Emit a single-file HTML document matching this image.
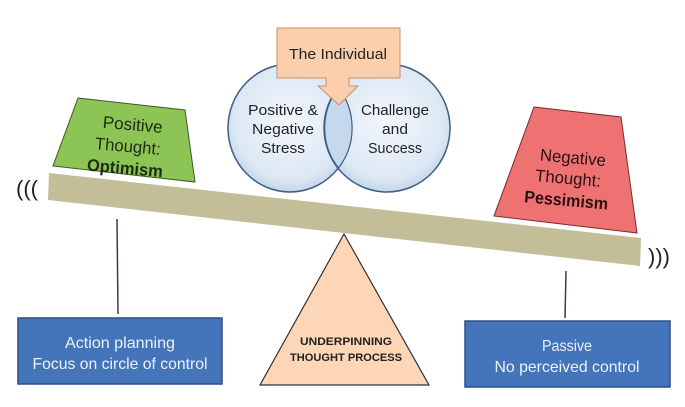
<!DOCTYPE html>
<html><head><meta charset="utf-8"><style>
html,body{margin:0;padding:0;background:#fff;}
svg{display:block;}
text{font-family:"Liberation Sans",sans-serif;}
</style></head><body>
<svg width="685" height="407" viewBox="0 0 685 407" xmlns="http://www.w3.org/2000/svg">
<defs>
<radialGradient id="cg" cx="50%" cy="45%" r="60%">
<stop offset="0%" stop-color="#f2f6fb"/><stop offset="75%" stop-color="#dce8f4"/><stop offset="100%" stop-color="#b9cde3"/>
</radialGradient>
</defs>
<rect width="685" height="407" fill="#fff"/>
<ellipse cx="290" cy="128" rx="62" ry="64" fill="url(#cg)" stroke="#3d5f86" stroke-width="1.5"/>
<ellipse cx="387" cy="128" rx="63" ry="64" fill="url(#cg)" stroke="#3d5f86" stroke-width="1.5"/>
<path d="M338.5 88 A62 64 0 0 1 338.5 168 A63 64 0 0 1 338.5 88Z" fill="#c6d8ec" stroke="#3d5f86" stroke-width="1.2"/>
<g font-size="15" text-anchor="middle" fill="#222">
<text x="283" y="115" textLength="70" lengthAdjust="spacingAndGlyphs">Positive &amp;</text>
<text x="283" y="134" textLength="62" lengthAdjust="spacingAndGlyphs">Negative</text>
<text x="283" y="153" textLength="44" lengthAdjust="spacingAndGlyphs">Stress</text>
<text x="395" y="115" textLength="68" lengthAdjust="spacingAndGlyphs">Challenge</text>
<text x="395" y="134" textLength="26" lengthAdjust="spacingAndGlyphs">and</text>
<text x="395" y="153" textLength="54" lengthAdjust="spacingAndGlyphs">Success</text>
</g>
<path d="M277 28 H400 V78 H349 V86 H358 L339 105 L318 86 H326 V78 H277 Z" fill="#fbcfac" stroke="#c9906a" stroke-width="1"/>
<text x="338" y="59" font-size="15" text-anchor="middle" fill="#222" textLength="98" lengthAdjust="spacingAndGlyphs">The Individual</text>
<polygon points="78,98 185,110 195,182 53,166" fill="#8cc455" stroke="#3d5a24" stroke-width="1"/>
<g transform="rotate(5 128 145)" fill="#1e2a14" text-anchor="middle" font-size="17">
<text x="131" y="130" textLength="60" lengthAdjust="spacingAndGlyphs">Positive</text>
<text x="128" y="152" textLength="66" lengthAdjust="spacingAndGlyphs">Thought:</text>
<text x="127" y="174" font-weight="bold" textLength="76" lengthAdjust="spacingAndGlyphs">Optimism</text>
</g>
<polygon points="534,107 621,117 637,233 494,216" fill="#ef7272" stroke="#7a2a2a" stroke-width="1"/>
<g transform="rotate(5 568 180)" fill="#2a1010" text-anchor="middle" font-size="17">
<text x="571" y="163" textLength="66" lengthAdjust="spacingAndGlyphs">Negative</text>
<text x="568" y="184" textLength="66" lengthAdjust="spacingAndGlyphs">Thought:</text>
<text x="568" y="206" font-weight="bold" textLength="84" lengthAdjust="spacingAndGlyphs">Pessimism</text>
</g>
<polygon points="49,173 641,238 640,266 48,200" fill="#c3bd98"/>
<text x="16" y="196" font-size="22" fill="#222" textLength="22" lengthAdjust="spacingAndGlyphs">(((</text>
<text x="648" y="264" font-size="22" fill="#222" textLength="22" lengthAdjust="spacingAndGlyphs">)))</text>
<line x1="117" y1="219" x2="118" y2="314" stroke="#2c3e60" stroke-width="1.5"/>
<line x1="566" y1="271" x2="565" y2="318" stroke="#2c3e60" stroke-width="1.5"/>
<polygon points="344,234 260,385 429,385" fill="#fcd6b7" stroke="#333" stroke-width="1.2"/>
<text x="346" y="345" font-size="11" font-weight="bold" text-anchor="middle" fill="#222" textLength="92" lengthAdjust="spacingAndGlyphs">UNDERPINNING</text>
<text x="346" y="361" font-size="11" font-weight="bold" text-anchor="middle" fill="#222" textLength="112" lengthAdjust="spacingAndGlyphs">THOUGHT PROCESS</text>
<rect x="18" y="318" width="204" height="66" fill="#4474b9" stroke="#2b4f85" stroke-width="1.5"/>
<text x="120" y="348" font-size="16" text-anchor="middle" fill="#eef2fa" textLength="110" lengthAdjust="spacingAndGlyphs">Action planning</text>
<text x="120" y="369" font-size="16" text-anchor="middle" fill="#eef2fa" textLength="175" lengthAdjust="spacingAndGlyphs">Focus on circle of control</text>
<rect x="465" y="321" width="205" height="66" fill="#4474b9" stroke="#2b4f85" stroke-width="1.5"/>
<text x="567" y="351" font-size="16" text-anchor="middle" fill="#eef2fa" textLength="50" lengthAdjust="spacingAndGlyphs">Passive</text>
<text x="567" y="372" font-size="16" text-anchor="middle" fill="#eef2fa" textLength="145" lengthAdjust="spacingAndGlyphs">No perceived control</text>
</svg>
</body></html>
